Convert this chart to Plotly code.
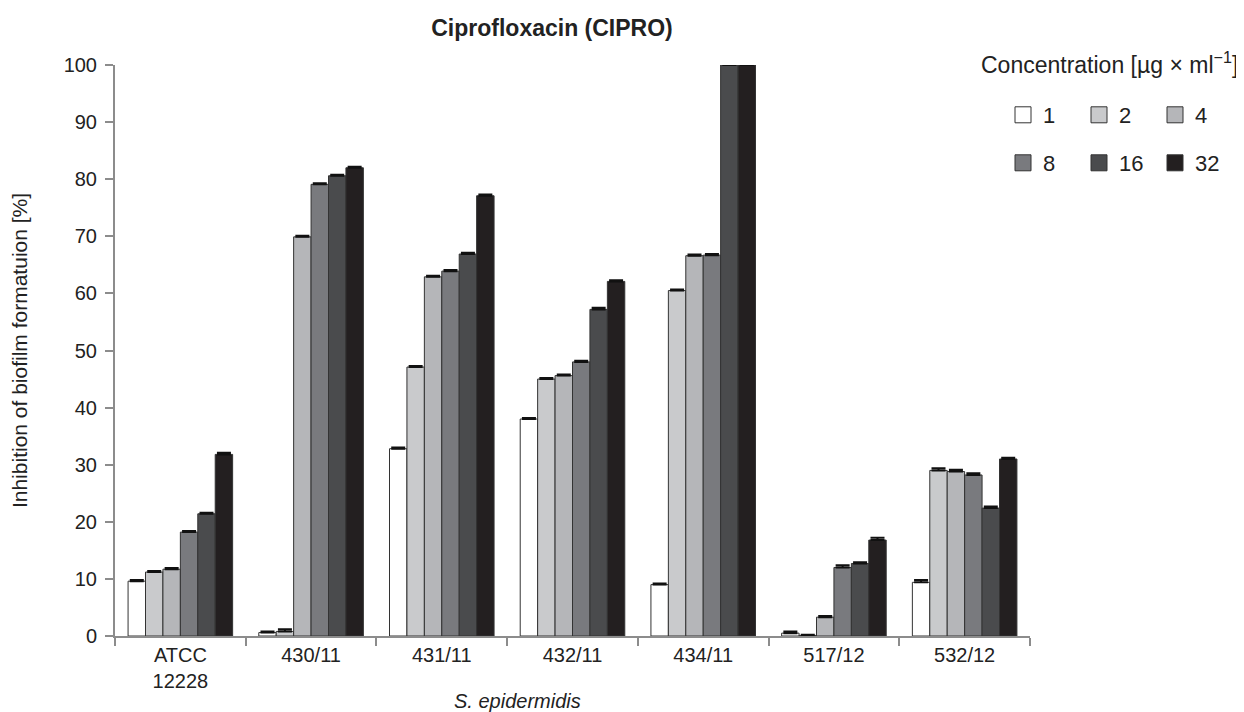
import plotly.graph_objects as go

categories = ["ATCC<br>12228", "430/11", "431/11", "432/11", "434/11", "517/12", "532/12"]
concentrations = ["1", "2", "4", "8", "16", "32"]
values = {
    "1":  [9.6, 0.6, 32.8, 38.0, 9.0, 0.5, 9.4],
    "2":  [11.2, 0.8, 47.1, 45.0, 60.5, 0.1, 29.0],
    "4":  [11.7, 69.9, 62.9, 45.6, 66.6, 3.3, 28.8],
    "8":  [18.2, 79.1, 63.9, 48.0, 66.7, 12.0, 28.2],
    "16": [21.4, 80.6, 66.9, 57.2, 100.0, 12.7, 22.4],
    "32": [31.8, 82.0, 77.1, 62.1, 100.0, 16.8, 31.0],
}
errors = {
    "1":  [0.2, 0.2, 0.2, 0.2, 0.2, 0.3, 0.4],
    "2":  [0.2, 0.4, 0.2, 0.2, 0.2, 0.1, 0.4],
    "4":  [0.2, 0.2, 0.2, 0.2, 0.2, 0.2, 0.3],
    "8":  [0.2, 0.2, 0.2, 0.2, 0.2, 0.4, 0.3],
    "16": [0.2, 0.2, 0.2, 0.3, 0.2, 0.2, 0.3],
    "32": [0.3, 0.2, 0.2, 0.2, 0.2, 0.4, 0.2],
}
colors = ["#ffffff", "#c9cacc", "#b5b6b9", "#797a7e", "#4a4b4d", "#231f20"]
yticks = [0, 10, 20, 30, 40, 50, 60, 70, 80, 90, 100]

FONT = "Arial, Liberation Sans, sans-serif"
TXT = "#222222"
W, H = 1236, 704  # page body has an 8px margin

fig = go.Figure()
for i, c in enumerate(concentrations):
    fig.add_trace(go.Bar(
        x=categories, y=values[c], name=c, showlegend=False,
        marker=dict(color=colors[i], line=dict(color="#333333", width=1)),
        error_y=dict(type="data", array=errors[c], arrayminus=[0]*len(categories),
                     symmetric=False, color="#111111", thickness=2, width=7),
    ))
# legend entries (square swatches)
for i, c in enumerate(concentrations):
    fig.add_trace(go.Scatter(
        x=[None], y=[None], mode="markers", name=c,
        marker=dict(symbol="square", size=16, color=colors[i],
                    line=dict(color="#333333", width=1)),
        legend="legend" if i < 3 else "legend2", showlegend=True,
    ))

leg_common = dict(orientation="h", xref="container", yref="container",
                  x=995/W, xanchor="left", yanchor="middle",
                  entrywidth=31, entrywidthmode="pixels",
                  font=dict(size=22, color=TXT), itemwidth=30,
                  bgcolor="rgba(0,0,0,0)", itemclick=False)
fig.update_layout(
    width=W, height=H,
    margin=dict(l=107, r=214, t=57, b=76, autoexpand=False),
    paper_bgcolor="white", plot_bgcolor="white",
    font=dict(family=FONT, size=20, color=TXT),
    barmode="group", bargap=0.2, bargroupgap=0,
    title=dict(text="<b>Ciprofloxacin (CIPRO)</b>", x=544/W, xanchor="center",
               y=1-20/H, yanchor="middle", font=dict(size=23, color=TXT)),
    legend=dict(y=1-107/H, **leg_common),
    legend2=dict(y=1-155/H, **leg_common),
    showlegend=True,
)
fig.update_yaxes(
    range=[0, 100], tickvals=yticks, showgrid=False, zeroline=False,
    showline=True, linecolor="#8c8c8c", linewidth=2,
    ticks="outside", ticklen=8, tickcolor="#8c8c8c", tickwidth=2,
    tickfont=dict(size=20), ticklabelstandoff=4,
    title=dict(text="Inhibition of biofilm formatuion [%]", font=dict(size=21), standoff=30),
)
fig.update_xaxes(
    showgrid=False, showline=True, linecolor="#8c8c8c", linewidth=2,
    ticks="outside", ticklen=8, tickcolor="#8c8c8c", tickwidth=2,
    tickson="boundaries", tickfont=dict(size=20),
)
fig.add_annotation(text="<i>S. epidermidis</i>", xref="paper", yref="paper",
                   x=(517-115)/915, y=(636-701)/571, xanchor="center", yanchor="middle",
                   showarrow=False, font=dict(size=20))
fig.add_annotation(text="Concentration [µg × ml<sup>−1</sup>]", xref="paper", yref="paper",
                   x=(1109-115)/915, y=(636-63)/571, xanchor="center", yanchor="middle",
                   showarrow=False, font=dict(size=23))

fig.write_html("out.html")
